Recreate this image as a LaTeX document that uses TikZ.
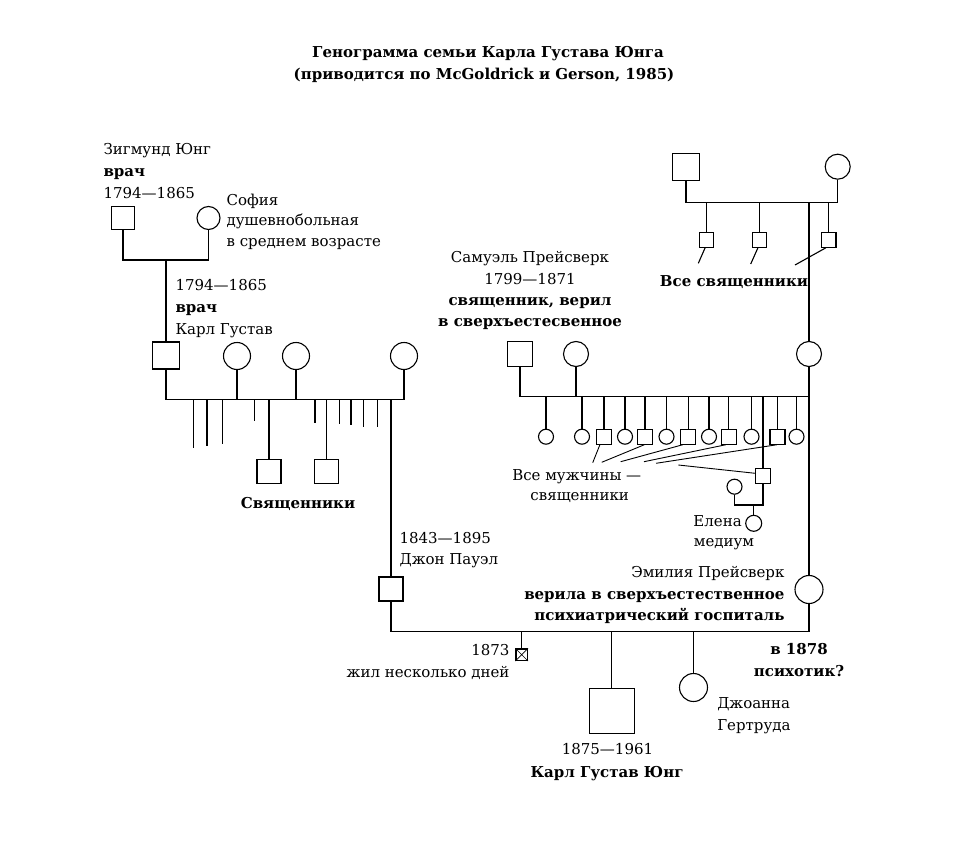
\documentclass[tikz,border=0pt]{standalone}
\usepackage{fontspec}
\setmainfont{DejaVu Serif}
\begin{document}
\begin{tikzpicture}[x=1pt,y=-1pt,line width=1.1pt,
  txt/.style={font=\fontsize{15}{18}\selectfont,inner sep=0pt},
  btxt/.style={font=\fontsize{15}{18}\selectfont\bfseries,inner sep=0pt},
  male/.style={draw,rectangle,minimum size=#1,inner sep=0pt},
  female/.style={draw,circle,minimum size=#1,inner sep=0pt}]
\useasboundingbox (0,0) rectangle (955,845);
% title
\node[btxt,anchor=base] (t1) at (488,58) {Генограмма семьи Карла Густава Юнга};
\node[btxt,anchor=base] (t2) at (484,80) {(приводится по McGoldrick и Gerson, 1985)};
% ---------- Jung side ----------
\node[txt,anchor=base west] (zn1) at (103,155) {Зигмунд Юнг};
\node[btxt,anchor=base west] (zn2) at (103,177) {врач};
\node[txt,anchor=base west] (zn3) at (103,198) {1794—1865};
\node[txt,anchor=base west] (sn1) at (226,205) {София};
\node[txt,anchor=base west] (sn2) at (226,225) {душевнобольная};
\node[txt,anchor=base west] (sn3) at (226,246) {в среднем возрасте};
\node[male=23] (zig) at (123,218) {};
\node[female=23] (sof) at (208.5,218) {};
\coordinate (zsm) at (166,260);
\draw (zig.south) |- (zsm) -| (sof.south);
\node[txt,anchor=base west] (kn1) at (175,290) {1794—1865};
\node[btxt,anchor=base west] (kn2) at (175,312) {врач};
\node[txt,anchor=base west] (kn3) at (175,334) {Карл Густав};
\node[male=27] (kg) at (166,355.5) {};
\draw (zsm) -- (kg.north);
\node[female=27] (kw1) at (237,356) {};
\node[female=27] (kw2) at (296,356) {};
\node[female=27] (kw3) at (404,356) {};
\coordinate (kgl) at (166,399.3);
\coordinate (kgr) at (404,399.3);
\draw (kg.south) -- (kgl) -- (kgr) -- (kw3.south);
\draw (kw1.south) -- (kw1.south |- kgl);
\draw (kw2.south) -- (kw2.south |- kgl);
\foreach \x/\y [count=\i] in {193.5/448,207/446,222.7/444,254.5/421,315/423,339.3/424,351/425,363.3/426.7,377.5/426.7}{
  \coordinate (ka\i) at (\x,399.3);
  \coordinate (kb\i) at (\x,\y);
  \draw (ka\i) -- (kb\i);
}
\node[male=24] (pr1) at (269,471.3) {};
\node[male=24] (pr2) at (326.3,471.3) {};
\draw (pr1.north) -- (pr1.north |- kgl);
\draw (pr2.north) -- (pr2.north |- kgl);
\node[btxt,anchor=base] (prl) at (298,508) {Священники};
% Paul
\node[txt,anchor=base west] (pn1) at (399,543) {1843—1895};
\node[txt,anchor=base west] (pn2) at (399,564) {Джон Пауэл};
\node[male=24] (paul) at (391,589) {};
\draw (paul.north) -- (paul.north |- kgl);
% ---------- Preiswerk side ----------
\node[male=27] (gf) at (686,167.3) {};
\node[female=25] (gmo) at (837.7,166.7) {};
\coordinate (gm1) at (760,202.7);
\draw (gf.south) |- (gm1) -| (gmo.south);
\node[male=14.5] (gs1) at (706.5,240) {};
\node[male=14.5] (gs2) at (759.3,240) {};
\node[male=14.5] (gs3) at (828.7,240) {};
\draw (gs1.north) -- (gs1.north |- gm1);
\draw (gs2.north) -- (gs2.north |- gm1);
\draw (gs3.north) -- (gs3.north |- gm1);
\coordinate (gd1) at (698.3,263.3);
\coordinate (gd2) at (750.7,264);
\coordinate (gd3) at (795,265);
\draw (gs1.260) -- (gd1);
\draw (gs2.260) -- (gd2);
\draw (gs3.250) -- (gd3);
\node[btxt,anchor=base] (gsl) at (734,286) {Все священники};
\node[txt,anchor=base] (sa1) at (530,262) {Самуэль Прейсверк};
\node[txt,anchor=base] (sa2) at (530,284) {1799—1871};
\node[btxt,anchor=base] (sa3) at (530,305) {священник, верил};
\node[btxt,anchor=base] (sa4) at (530,326) {в сверхъестесвенное};
\node[male=25] (sam) at (520,354) {};
\node[female=25] (pw1) at (576,354) {};
\node[female=25] (pw2) at (809,354) {};
\draw (pw2.north) -- (pw2.north |- gm1);
\coordinate (psl) at (520,396.7);
\coordinate (psr) at (809,396.7);
\draw (sam.south) -- (psl) -- (psr);
\draw (pw1.south) -- (pw1.south |- psl);
% children
\node[female=15] (pc1) at (546,436.7) {};
\node[female=15] (pc2) at (582,436.7) {};
\node[male=15] (pc3) at (604,436.7) {};
\node[female=15] (pc4) at (625,436.7) {};
\node[male=15] (pc5) at (645,436.7) {};
\node[female=15] (pc6) at (666.5,436.7) {};
\node[male=15] (pc7) at (688.3,436.7) {};
\node[female=15] (pc8) at (709,436.7) {};
\node[male=15] (pc9) at (728.7,436.7) {};
\node[female=15] (pc10) at (751.5,436.7) {};
\node[male=15] (pc11) at (777.5,436.7) {};
\node[female=15] (pc12) at (796.5,436.7) {};
\foreach \i in {1,...,12}{\draw (pc\i.north) -- (pc\i.north |- psl);}
\node[male=15] (hm) at (763,476.2) {};
\draw (hm.north) -- (hm.north |- psl);
\node[female=15] (hw) at (734.5,486.7) {};
\coordinate (hl) at (734.5,505);
\draw (hw.south) -- (hl) -| (hm.south);
\node[female=16] (ele) at (753.7,523.3) {};
\draw (ele.north) -- (ele.north |- hl);
\node[txt,anchor=base east] (el1) at (742.3,526) {Елена};
\node[txt,anchor=base] (el2) at (724,546) {медиум};
% pointer lines
\coordinate (e1) at (592.7,462.7);
\coordinate (e2) at (601.7,462.3);
\coordinate (e3) at (620.7,461.7);
\coordinate (e4) at (644,461.7);
\coordinate (e5) at (656,463.3);
\coordinate (e6) at (678.3,465);
\draw[line width=0.9pt] (pc3.243) -- (e1);
\draw[line width=0.9pt] (pc5.265) -- (e2);
\draw[line width=0.9pt] (pc7.235) -- (e3);
\draw[line width=0.9pt] (pc9.250) -- (e4);
\draw[line width=0.9pt] (pc11.265) -- (e5);
\draw[line width=0.9pt] (hm.160) -- (e6);
\node[txt,anchor=base west] (vm1) at (511.7,480) {Все мужчины —};
\node[txt,anchor=base] (vm2) at (579.7,500) {священники};
% Emilia
\node[female=28] (emi) at (809,589.5) {};
\draw (pw2.south) -- (emi.north);
\node[txt,anchor=base east] (em1) at (785,577) {Эмилия Прейсверк};
\node[btxt,anchor=base east] (em2) at (785,599) {верила в сверхъестественное};
\node[btxt,anchor=base east] (em3) at (785,620) {психиатрический госпиталь};
\node[btxt,anchor=base] (em4) at (799,654) {в 1878};
\node[btxt,anchor=base] (em5) at (799,676) {психотик?};
% marriage Paul - Emilia
\coordinate (pm1) at (391,631.7);
\coordinate (pm2) at (809,631.7);
\draw (paul.south) -- (pm1) -- (pm2) -- (emi.south);
\node[male=11.5] (inf) at (521.7,654.7) {};
\draw[line width=0.7pt] (inf.north west) -- (inf.south east) (inf.north east) -- (inf.south west);
\draw (inf.north) -- (inf.north |- pm1);
\node[txt,anchor=base east] (in1) at (510,655) {1873};
\node[txt,anchor=base east] (in2) at (510,677) {жил несколько дней};
\node[male=45] (cgj) at (611.7,710.8) {};
\draw (cgj.north) -- (cgj.north |- pm1);
\node[txt,anchor=base] (cj1) at (607.5,754) {1875—1961};
\node[btxt,anchor=base] (cj2) at (607,777) {Карл Густав Юнг};
\node[female=28] (jg) at (693.5,687.5) {};
\draw (jg.north) -- (jg.north |- pm1);
\node[txt,anchor=base west] (jg1) at (716.7,708) {Джоанна};
\node[txt,anchor=base west] (jg2) at (716.7,730) {Гертруда};
\end{tikzpicture}
\end{document}
